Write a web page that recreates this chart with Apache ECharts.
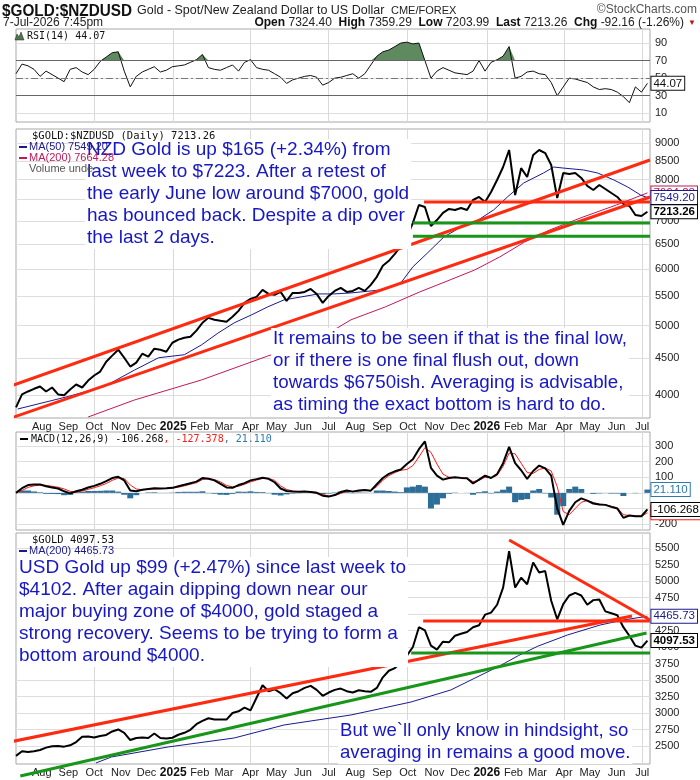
<!DOCTYPE html>
<html>
<head>
  <meta charset="utf-8">
</head>
<body style="margin: 0">
  <div id="container" style="width: 700px; height: 780px"></div>
  <script src="https://cdn.jsdelivr.net/npm/echarts@6/dist/echarts.min.js"></script>
  <script>
    // ---- data (weekly samples, last one = 7-Jul-2026) ----
    var nzdClose = [3844, 4007, 4045, 4080, 4111, 4045, 4097, 4007, 3995, 4070,
      4137, 4097, 4190, 4258, 4313, 4452, 4540, 4627, 4509, 4383,
      4439, 4568, 4524, 4642, 4627, 4597, 4732, 4779, 4809, 4824,
      4920, 5045, 5127, 5095, 5078, 5062, 5144, 5243, 5380, 5449,
      5484, 5609, 5537, 5520, 5573, 5415, 5555, 5555, 5573, 5627,
      5537, 5380, 5502, 5591, 5645, 5573, 5591, 5645, 5591, 5700,
      5850, 6061, 6160, 6300, 6461, 6650, 6960, 7373, 7326, 6890,
      7024, 7186, 7279, 7256, 7302, 7256, 7492, 7565, 7445, 7687,
      7990, 8331, 8800, 7613, 8300, 8068, 8660, 8800, 8714, 8385,
      7540, 8172, 8146, 8172, 8042, 7838, 7737, 7862, 7762, 7662,
      7565, 7397, 7349, 7139, 7115, 7213.26];

    var rsi = [55, 66, 64, 60, 52, 58, 54, 50, 46, 60,
      62, 57, 54, 60, 69, 74, 79, 80, 58, 40,
      52, 57, 60, 63, 57, 59, 63, 64, 65, 68,
      71, 77, 62, 60, 59, 62, 65, 58, 68, 71,
      62, 60, 59, 55, 51, 44, 48, 50, 52, 53,
      51, 42, 45, 50, 51, 53, 55, 50, 55, 65,
      75, 80, 82, 86, 90, 91, 89, 90, 70, 50,
      58, 62, 59, 56, 55, 54, 58, 70, 58, 68,
      71, 75, 86, 50, 52, 57, 58, 55, 54, 45,
      30, 40, 50, 49, 47, 45, 40, 37, 38, 37,
      34, 29, 22, 40, 34, 44.07];

    var macd = [0, 30, 50, 54, 54, 42, 35, 28, 10, -3,
      10, 20, 34, 45, 58, 75, 95, 103, 80, 15,
      10, 20, 25, 29, 28, 29, 32, 42, 52, 62,
      72, 95, 90, 80, 58, 35, 32, 50, 62, 80,
      88, 97, 90, 68, 28, 12, 8, 7, 8, 6,
      0, -18, -24, -14, 5, 15, 8, 15, 18, 14,
      55, 95, 122, 138, 150, 185, 215, 280, 330, 160,
      110, 85, 95, 100, 96, 93, 60, 85, 110, 95,
      120, 190, 295, 190, 145, 90, 140, 175, 157, 110,
      -100, -205, -115, -60, -35, -50, -68, -75, -77, -90,
      -100, -160, -145, -150, -150, -106.268];

    var macdSignal = [0, 15, 35, 45, 50, 48, 42, 36, 25, 10,
      5, 12, 22, 33, 45, 60, 80, 95, 92, 50,
      25, 20, 22, 25, 27, 28, 30, 36, 45, 55,
      65, 85, 92, 85, 70, 48, 38, 42, 55, 70,
      82, 92, 92, 80, 45, 22, 12, 9, 8, 7,
      3, -10, -20, -17, -4, 10, 10, 12, 16, 15,
      40, 80, 110, 130, 145, 150, 175, 230, 290, 260,
      185, 120, 100, 98, 96, 94, 72, 80, 100, 98,
      112, 170, 255, 250, 190, 130, 125, 150, 160, 140,
      40, -120, -140, -100, -60, -50, -62, -72, -76, -86,
      -96, -140, -145, -148, -150, -127.378];

    var usdClose = [2350, 2420, 2410, 2420, 2440, 2475, 2495, 2500, 2490, 2510,
      2560, 2640, 2645, 2630, 2650, 2667, 2720, 2750, 2700, 2590,
      2620, 2630, 2620, 2690, 2620, 2615, 2625, 2670, 2700, 2745,
      2830, 2880, 2920, 2900, 2900, 2900, 3000, 3025, 3080, 3040,
      3230, 3420, 3330, 3360, 3300, 3220, 3300, 3330, 3380, 3410,
      3350, 3260, 3310, 3350, 3370, 3330, 3310, 3345, 3330, 3320,
      3380, 3540, 3640, 3680, 3760, 3870, 4000, 4300, 4250, 4020,
      3960, 4080, 4070, 4170, 4200, 4227, 4300, 4330, 4490, 4520,
      4640, 4900, 5450, 4900, 5050, 4950, 5280, 5130, 5150, 4700,
      4420, 4650, 4780, 4820, 4780, 4640, 4710, 4720, 4540, 4510,
      4480, 4300, 4170, 4020, 3990, 4097.53];

    var nzdMa50Dates = ['2024-07-04', '2024-09-01', '2024-10-13', '2024-11-17', '2024-12-15', '2025-01-14',
      '2025-02-03', '2025-02-22', '2025-03-13', '2025-04-02', '2025-04-21', '2025-05-10', '2025-05-30',
      '2025-06-19', '2025-07-07', '2025-07-27', '2025-08-31', '2025-09-23', '2025-10-07', '2025-10-24',
      '2025-11-12', '2025-12-02', '2025-12-22', '2026-01-09', '2026-01-25', '2026-02-13', '2026-03-08',
      '2026-03-20', '2026-03-31', '2026-04-24', '2026-05-10', '2026-05-29', '2026-06-14', '2026-06-29', '2026-07-07'];
    var nzdMa50 = [3823, 3981, 4111, 4334, 4509, 4553, 4700, 4880, 5045, 5175, 5311, 5432, 5484,
      5537, 5537, 5555, 5609, 5737, 6042, 6317, 6650, 6868, 7024, 7256, 7565, 7913, 8172,
      8331, 8303, 8251, 8172, 7990, 7812, 7613, 7549.20];

    var nzdMa200Dates = ['2024-09-24', '2024-11-17', '2025-02-03', '2025-04-21', '2025-05-30', '2025-07-07',
      '2025-07-27', '2025-09-05', '2025-10-15', '2025-11-19', '2025-12-18', '2026-01-16', '2026-02-14',
      '2026-03-15', '2026-04-23', '2026-06-01', '2026-07-07'];
    var nzdMa200 = [3726, 3936, 4198, 4534, 4698, 4930, 5095, 5311, 5573, 5791, 5981, 6236, 6544,
      6801, 7092, 7373, 7664.28];

    var usdMa200Dates = ['2024-10-03', '2024-10-21', '2024-12-26', '2025-03-13', '2025-05-10', '2025-07-27',
      '2025-09-03', '2025-10-05', '2025-11-20', '2026-01-17', '2026-02-07', '2026-03-01', '2026-04-05',
      '2026-05-13', '2026-06-09', '2026-07-07'];
    var usdMa200 = [2242, 2333, 2485, 2621, 2818, 2970, 3076, 3167, 3348, 3720, 3870, 4010, 4182,
      4333, 4409, 4465.73];

    // hand-drawn trend lines: [fromDate, fromValue, toDate, toValue, colour]
    var nzdLines = [
      ['2024-06-13', 4064, '2026-07-10', 8521, 'red'],
      ['2024-06-13', 3667, '2026-07-10', 7565, 'red'],
      ['2025-10-20', 7445, '2026-07-10', 7445, 'red'],
      ['2025-10-07', 6957, '2026-07-10', 6957, 'green'],
      ['2025-10-07', 6668, '2026-07-10', 6668, 'green']
    ];
    var usdLines = [
      ['2024-06-13', 2530, '2026-06-19', 4470, 'red'],
      ['2024-07-07', 2045, '2026-07-06', 4212, 'green'],
      ['2026-01-27', 5621, '2026-07-10', 4409, 'red'],
      ['2025-10-19', 4394, '2026-07-10', 4394, 'red'],
      ['2025-10-05', 3909, '2026-07-10', 3909, 'green']
    ];

    var monthStarts = ['2024-08-01', '2024-09-01', '2024-10-01', '2024-11-01', '2024-12-01', '2025-01-01',
      '2025-02-01', '2025-03-01', '2025-04-01', '2025-05-01', '2025-06-01', '2025-07-01', '2025-08-01',
      '2025-09-01', '2025-10-01', '2025-11-01', '2025-12-01', '2026-01-01', '2026-02-01', '2026-03-01',
      '2026-04-01', '2026-05-01', '2026-06-01', '2026-07-01'];
    var quarterStarts = ['2024-10-01', '2025-01-01', '2025-04-01', '2025-07-01', '2025-10-01',
      '2026-01-01', '2026-04-01', '2026-07-01'];
    var nzdTicks = [4000, 4500, 5000, 5500, 6000, 6500, 7000, 7500, 8000, 8500, 9000];
    var usdTicks = [2500, 2750, 3000, 3250, 3500, 3750, 4000, 4250, 4500, 4750, 5000, 5250, 5500];
    var macdTicks = [-200, -100, 0, 100, 200, 300];
    var rsiTicks = [10, 30, 50, 70, 90];

    // ---- helpers ----
    function day(s) {
      var p = s.split('-');
      return new Date(+p[0], +p[1] - 1, +p[2]).getTime();
    }
    var weekDates = [];
    for (var i = 0; i < nzdClose.length; i++) {
      weekDates.push(new Date(2024, 6, 2 + 7 * i).getTime());
    }
    function pairs(xs, ys, f) {
      return ys.map(function (v, k) {
        return [typeof xs[k] === 'string' ? day(xs[k]) : xs[k], f ? f(v) : v];
      });
    }
    var lg = Math.log10;
    var SANS = '"Liberation Sans", Arial, sans-serif';
    var MONO = '"DejaVu Sans Mono", monospace';
    var MON = ['Jan', 'Feb', 'Mar', 'Apr', 'May', 'Jun', 'Jul', 'Aug', 'Sep', 'Oct', 'Nov', 'Dec'];
    var RED = '#ff2a10', GREEN = '#18961a', NAVY = '#1a1a8c', CRIMSON = '#c0185a';
    var BLUE_TXT = '#1717c4';

    var xMin = day('2024-07-02'), xMax = day('2026-07-10');

    // dates are kept as timestamps on a plain value axis
    function makeX(gi, showLabels) {
      return {
        type: 'value', gridIndex: gi, min: xMin, max: xMax,
        axisLine: { show: false },
        axisTick: { show: false, customValues: quarterStarts.map(day) },
        splitLine: { show: true, lineStyle: { color: '#d9d9d9', width: 1 } },
        axisLabel: {
          show: showLabels, customValues: monthStarts.map(day), margin: 3, hideOverlap: false,
          fontSize: 11, fontFamily: SANS, color: '#222',
          formatter: function (v) {
            var d = new Date(v);
            return d.getMonth() === 0 ? '{y|' + d.getFullYear() + '}' : MON[d.getMonth()];
          },
          rich: { y: { fontWeight: 'bold', fontSize: 12, fontFamily: SANS, color: '#111' } }
        }
      };
    }
    function plain(v) { return String(v); }
    function makeY(gi, min, max, ticks, fmt) {
      return {
        type: 'value', gridIndex: gi, position: 'right', min: min, max: max, scale: true,
        axisLine: { show: false },
        axisTick: { show: false, customValues: ticks },
        splitLine: { show: true, lineStyle: { color: '#dedede', width: 1 } },
        axisLabel: {
          customValues: ticks, margin: 5, fontSize: 11, fontFamily: SANS, color: '#222',
          hideOverlap: false, formatter: fmt || plain
        }
      };
    }
    function box(text, color, bold) {
      return {
        show: true, formatter: text, distance: 4, color: color, fontSize: 11.5,
        fontFamily: SANS, fontWeight: bold ? 'bold' : 'normal',
        backgroundColor: '#fff', borderColor: color, borderWidth: 1, padding: [1, 2, 0, 2]
      };
    }
    function lineSeries(xi, data, color, width, extra) {
      var s = {
        type: 'line', xAxisIndex: xi, yAxisIndex: xi, data: data, showSymbol: false,
        symbol: 'none', silent: true, animation: false,
        lineStyle: { color: color, width: width }
      };
      for (var k in extra) s[k] = extra[k];
      return s;
    }
    function trend(xi, ln, f) {
      return lineSeries(xi, [[day(ln[0]), f ? f(ln[1]) : ln[1]], [day(ln[2]), f ? f(ln[3]) : ln[3]]],
        ln[4] === 'red' ? RED : GREEN, 3, { clip: false, z: 4 });
    }

    var last = nzdClose.length - 1;
    var hist = macd.map(function (v, k) { return +(v - macdSignal[k]).toFixed(3); });

    var series = [
      // RSI
      lineSeries(0, pairs(weekDates, rsi, function (v) { return Math.max(v, 70); }), 'transparent', 0, {
        areaStyle: { origin: 70, color: '#5f8a5f', opacity: 1 }
      }),
      lineSeries(0, pairs(weekDates, rsi), '#111', 1, {
        endLabel: box(rsi[last].toFixed(2), '#111', false),
        markLine: {
          silent: true, symbol: 'none', animation: false, label: { show: false },
          data: [
            { yAxis: 70, lineStyle: { color: '#666', width: 1, type: 'solid' } },
            { yAxis: 30, lineStyle: { color: '#666', width: 1, type: 'solid' } },
            { yAxis: 50, lineStyle: { color: '#777', width: 1, type: [7, 3, 2, 3] } }
          ]
        }
      }),
      // NZD gold
      lineSeries(1, pairs(nzdMa200Dates, nzdMa200, lg), CRIMSON, 1, {
        endLabel: box(nzdMa200[nzdMa200.length - 1].toFixed(2), CRIMSON, false)
      }),
      lineSeries(1, pairs(nzdMa50Dates, nzdMa50, lg), NAVY, 1, {
        endLabel: box(nzdMa50[nzdMa50.length - 1].toFixed(2), NAVY, false)
      }),
      lineSeries(1, pairs(weekDates, nzdClose, lg), '#000', 2, {
        endLabel: box(nzdClose[last].toFixed(2), '#000', true)
      }),
      // MACD
      {
        type: 'bar', xAxisIndex: 2, yAxisIndex: 2, data: pairs(weekDates, hist), barWidth: 6,
        itemStyle: { color: '#2c6e98' }, silent: true, animation: false
      },
      lineSeries(2, pairs(weekDates, macdSignal), '#ff1a1a', 1, {
        endLabel: box(macdSignal[last].toFixed(3), '#ff1a1a', false)
      }),
      lineSeries(2, pairs(weekDates, macd), '#000', 2, {
        endLabel: box(macd[last].toFixed(3), '#000', false)
      }),
      lineSeries(2, pairs(weekDates, hist), 'transparent', 0, {
        endLabel: box(hist[last].toFixed(3), '#2c7ab0', false)
      }),
      // USD gold
      lineSeries(3, pairs(usdMa200Dates, usdMa200), NAVY, 1, {
        endLabel: box(usdMa200[usdMa200.length - 1].toFixed(2), NAVY, false)
      }),
      lineSeries(3, pairs(weekDates, usdClose), '#000', 2, {
        endLabel: box(usdClose[last].toFixed(2), '#000', true)
      })
    ];
    nzdLines.forEach(function (ln) { series.push(trend(1, ln, lg)); });
    usdLines.forEach(function (ln) { series.push(trend(3, ln)); });

    function txt(x, y, text, size, color, family, extra) {
      var st = {
        text: text, fontSize: size, fontFamily: family || SANS, fill: color || '#111',
        textVerticalAlign: 'middle'
      };
      var el = { type: 'text', x: x, y: y, z: 101, silent: true, style: st };
      if (extra) {
        for (var k in extra) {
          if (k === 'scaleX') el.scaleX = extra[k]; else st[k] = extra[k];
        }
      }
      return el;
    }
    function note(x, y, lines, size) {
      return {
        type: 'text', x: x, y: y, z: 100, silent: true,
        style: {
          text: lines.join('\n'), fontSize: size || 19, fontFamily: SANS, fill: BLUE_TXT,
          lineHeight: 22, textVerticalAlign: 'top', backgroundColor: '#fff', padding: [0, 2, 0, 2]
        }
      };
    }
    function dash(x, y, color) {
      return {
        type: 'line', z: 101, silent: true, shape: { x1: x, y1: y, x2: x + 8, y2: y },
        style: { stroke: color, lineWidth: 2 }
      };
    }

    var graphics = [
      // header
      txt(2, 11, '$GOLD:$NZDUSD', 17, '#111', SANS, { fontWeight: 'bold', scaleX: 0.9 }),
      txt(137, 11, 'Gold - Spot/New Zealand Dollar to US Dollar', 12.5, '#222'),
      txt(391, 11, 'CME/FOREX', 11, '#222'),
      txt(697, 10, '\u00A9StockCharts.com', 12, '#555', SANS, { textAlign: 'right' }),
      txt(3, 23, '7-Jul-2026 7:45pm', 12, '#222'),
      txt(684, 23, '{b|Open} 7324.40  {b|High} 7359.29  {b|Low} 7203.99  {b|Last} 7213.26  {b|Chg} -92.16 (-1.26%)',
        12, '#222', SANS, {
          textAlign: 'right',
          rich: { b: { fontWeight: 'bold', fontSize: 12, fontFamily: SANS, fill: '#111' } }
        }),
      txt(688, 23, '\u25BC', 8, '#c01010'),
      // panel legends
      {
        type: 'polygon', z: 101, silent: true,
        shape: { points: [[15, 40], [17, 34], [19, 37], [21, 32], [24, 40]] },
        style: { fill: '#4d7a4d', stroke: '#222', lineWidth: 0.5 }
      },
      txt(27, 36, 'RSI(14) 44.07', 10, '#111', MONO),
      txt(32, 136, '$GOLD:$NZDUSD (Daily) 7213.26', 10.5, '#111', MONO),
      dash(19, 147, NAVY),
      txt(29, 147, 'MA(50) 7549.20', 11, NAVY),
      dash(19, 158, CRIMSON),
      txt(29, 158, 'MA(200) 7664.28', 11, CRIMSON),
      txt(29, 169, 'Volume unde', 11, '#555'),
      dash(20, 439, '#000'),
      txt(31, 439, '{k|MACD(12,26,9) -106.268}{r|, -127.378}{b|, 21.110}', 10, '#111', MONO, {
        rich: {
          k: { fontSize: 10, fontFamily: MONO, fill: '#111' },
          r: { fontSize: 10, fontFamily: MONO, fill: '#ff1a1a' },
          b: { fontSize: 10, fontFamily: MONO, fill: '#2c7ab0' }
        }
      }),
      txt(32, 540, '$GOLD 4097.53', 10.5, '#111', MONO),
      dash(19, 551, NAVY),
      txt(29, 551, 'MA(200) 4465.73', 11, NAVY),
      // commentary
      note(85, 139, ['NZD Gold is up $165 (+2.34%) from', 'last week to $7223. After a retest of',
        'the early June low around $7000, gold', 'has bounced back. Despite a dip over', 'the last 2 days.']),
      note(271, 328, ['It remains to be seen if that is the final low,', 'or if there is one final flush out, down',
        'towards $6750ish. Averaging is advisable,', 'as timing the exact bottom is hard to do.'], 18.8),
      note(17, 557, ['USD Gold up $99 (+2.47%) since last week to', '$4102. After again dipping down near our',
        'major buying zone of $4000, gold staged a', 'strong recovery. Seems to be trying to form a',
        'bottom around $4000.']),
      note(338, 720, ['But we`ll only know in hindsight, so', 'averaging in remains a good move.'], 18.6)
    ];

    var gridBase = { left: 16, right: 50, show: true, borderColor: '#a8a8a8', borderWidth: 1,
      backgroundColor: '#fff', containLabel: false, outerBoundsMode: 'none' };
    function grid(top, height) {
      var g = { top: top, height: height };
      for (var k in gridBase) g[k] = gridBase[k];
      return g;
    }

    var option = {
      animation: false,
      backgroundColor: '#fff',
      grid: [grid(29, 93), grid(129, 289), grid(432, 98), grid(533, 231)],
      xAxis: [makeX(0, false), makeX(1, true), makeX(2, false), makeX(3, true)],
      yAxis: [
        makeY(0, 0, 106, rsiTicks),
        makeY(1, lg(3714), lg(9415), nzdTicks.map(lg), function (v) { return String(Math.round(Math.pow(10, v))); }),
        makeY(2, -238, 390, macdTicks),
        makeY(3, 2227, 5727, usdTicks)
      ],
      series: series,
      graphic: { elements: graphics }
    };

    var chart = echarts.init(document.getElementById('container'), null, { renderer: 'canvas' });
    chart.setOption(option);
  </script>
</body>
</html>
